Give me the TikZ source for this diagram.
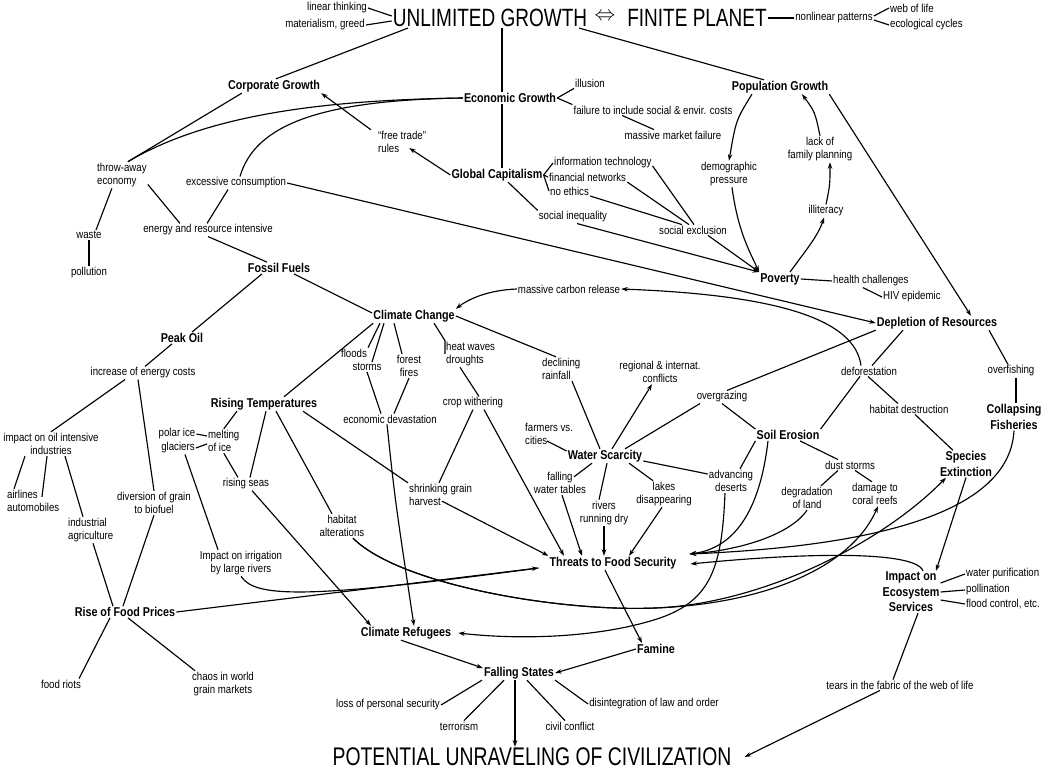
\documentclass[tikz,border=0pt]{standalone}
\usepackage{fontspec}
\newfontfamily\nar[FakeStretch=0.84]{Liberation Sans}
\newfontfamily\tit[FakeStretch=0.76]{Liberation Sans}
\usetikzlibrary{arrows.meta}
\tikzset{
 lbl/.style={inner sep=1pt, align=center, font=\nar\fontsize{11.5}{13.5}\selectfont},
 bld/.style={inner sep=1pt, align=center, font=\nar\bfseries\fontsize{12.8}{15.5}\selectfont},
 ttl/.style={inner sep=1pt, font=\tit\fontsize{25}{25}\selectfont},
 con/.style={line width=1.15pt, draw=black},
 arr/.style={con, -{Stealth[length=6.5pt,width=4.5pt]}},
}
\begin{document}
\begin{tikzpicture}[x=1pt,y=-1pt]
\fill[white] (0,0) rectangle (1045,771);
\useasboundingbox (0,0) rectangle (1045,771);
% nodes
\node[lbl] (lt) at (337,8) {linear thinking};
\node[lbl] (mg) at (325,25) {materialism, greed};
\node[ttl] (ug) at (490,18) {UNLIMITED GROWTH};
\node[inner sep=1pt] (eq) at (605,17) {\fontsize{21}{21}\selectfont$\Leftrightarrow$};
\node[ttl] (fp) at (697,18) {FINITE PLANET};
\node[lbl] (nlp) at (834,18) {nonlinear patterns};
\node[lbl, anchor=west] (wol) at (889,8) {web of life};
\node[lbl, anchor=west] (eco) at (889,25) {ecological cycles};
\node[bld] (cg) at (274,86) {Corporate Growth};
\node[bld] (eg) at (510,98) {Economic Growth};
\node[lbl] (ill) at (590,83) {illusion};
\node[lbl] (fail) at (653,110) {failure to include social \& envir. costs};
\node[lbl] (mmf) at (673,135) {massive market failure};
\node[bld] (pg) at (780,87) {Population Growth};
\node[lbl, align=left, anchor=west] (ftr) at (377,142) {“free trade”\\rules};
\node[bld] (gc) at (497,175) {Global Capitalism};
\node[lbl, anchor=west] (it) at (553,163) {information technology};
\node[lbl, anchor=west] (fn) at (548,177) {financial networks};
\node[lbl, anchor=west] (ne) at (549,191) {no ethics};
\node[lbl] (si) at (573,217) {social inequality};
\node[lbl] (se) at (693,230) {social exclusion};
\node[lbl] (dp) at (729,174) {demographic\\pressure};
\node[lbl] (lfp) at (820,149) {lack of\\family planning};
\node[lbl] (ilt) at (826,211) {illiteracy};
\node[bld] (pov) at (780,279) {Poverty};
\node[lbl, anchor=west] (hc) at (832,281) {health challenges};
\node[lbl, anchor=west] (hiv) at (882,297) {HIV epidemic};
\node[lbl, align=left, anchor=west] (tae) at (96,175) {throw-away\\economy};
\node[lbl] (ec) at (236,183) {excessive consumption};
\node[lbl] (eri) at (208,230) {energy and resource intensive};
\node[lbl] (waste) at (89,235) {waste};
\node[lbl] (poll) at (89,273) {pollution};
\node[bld] (ff) at (279,268) {Fossil Fuels};
\node[bld] (cc) at (414,316) {Climate Change};
\node[lbl] (mcr) at (569,289) {massive carbon release};
\node[bld] (dor) at (937,323) {Depletion of Resources};
\node[bld] (po) at (182,338) {Peak Oil};
\node[lbl] (iec) at (143,373) {increase of energy costs};
\node[lbl] (ioi) at (51,444) {impact on oil intensive\\industries};
\node[lbl, align=left, anchor=west] (aa) at (6,501) {airlines\\automobiles};
\node[lbl, align=left, anchor=west] (ia) at (67,530) {industrial\\agriculture};
\node[lbl] (dgb) at (154,503) {diversion of grain\\to biofuel};
\node[bld] (rfp) at (125,612) {Rise of Food Prices};
\node[lbl] (fr) at (61,684) {food riots};
\node[lbl] (chaos) at (223,684) {chaos in world\\grain markets};
\node[bld] (rt) at (264,404) {Rising Temperatures};
\node[lbl] (pice) at (177,434) {polar ice};
\node[lbl] (glac) at (178,448) {glaciers};
\node[lbl, align=left, anchor=west] (moi) at (207,441) {melting\\of ice};
\node[lbl] (rs) at (246,484) {rising seas};
\node[lbl] (iir) at (241,563) {Impact on irrigation\\by large rivers};
\node[lbl] (ha) at (342,526) {habitat\\alterations};
\node[lbl] (fl) at (354,353) {floods};
\node[lbl] (st) at (367,367) {storms};
\node[lbl] (ffi) at (409,366) {forest\\fires};
\node[lbl] (ed) at (390,419) {economic devastation};
\node[lbl, align=left, anchor=west] (hw) at (445,354) {heat waves\\droughts};
\node[lbl] (cw) at (473,403) {crop withering};
\node[lbl, align=left, anchor=west] (sgh) at (408,495) {shrinking grain\\harvest};
\node[lbl, align=left, anchor=west] (dr) at (541,369) {declining\\rainfall};
\node[lbl] (ric) at (660,372) {regional \& internat.\\conflicts};
\node[lbl] (og) at (722,397) {overgrazing};
\node[bld] (ws) at (605,456) {Water Scarcity};
\node[lbl, align=left, anchor=west] (fvc) at (524,434) {farmers vs.\\cities};
\node[lbl] (fwt) at (560,483) {falling\\water tables};
\node[lbl] (rrd) at (604,513) {rivers\\running dry};
\node[lbl] (ld) at (664,494) {lakes\\disappearing};
\node[lbl] (ad) at (731,481) {advancing\\deserts};
\node[bld] (soil) at (788,435) {Soil Erosion};
\node[lbl] (def) at (869,371) {deforestation};
\node[lbl] (hd) at (909,409) {habitat destruction};
\node[lbl] (ovf) at (1011,371) {overfishing};
\node[bld] (cf) at (1014,417) {Collapsing\\Fisheries};
\node[bld] (spe) at (966,464) {Species\\Extinction};
\node[lbl] (ds) at (850,465) {dust storms};
\node[lbl] (dol) at (807,498) {degradation\\of land};
\node[lbl] (dcr) at (875,494) {damage to\\coral reefs};
\node[bld] (tfs) at (613,563) {Threats to Food Security};
\node[bld] (fam) at (656,649) {Famine};
\node[bld] (cr) at (406,633) {Climate Refugees};
\node[bld] (fs) at (519,673) {Falling States};
\node[lbl] (lps) at (388,705) {loss of personal security};
\node[lbl] (ter) at (459,726) {terrorism};
\node[lbl] (cic) at (570,726) {civil conflict};
\node[lbl] (dlo) at (654,704) {disintegration of law and order};
\node[ttl, font=\tit\fontsize{25.5}{25.5}\selectfont] (pu) at (532,757) {POTENTIAL UNRAVELING OF CIVILIZATION};
\node[bld] (ies) at (911,592) {Impact on\\Ecosystem\\Services};
\node[lbl, anchor=west] (wp) at (965,574) {water purification};
\node[lbl, anchor=west] (pol) at (965,590) {pollination};
\node[lbl, anchor=west] (fce) at (965,604) {flood control, etc.};
\node[lbl] (tear) at (900,685) {tears in the fabric of the web of life};
% connectors
\draw[con] (lt.east) -- ([yshift=2pt]ug.west);
\draw[con] (mg.east) -- ([yshift=-3pt]ug.west);
\draw[con] (fp.east) -- (nlp.west);
\draw[con] ([yshift=2pt]nlp.east) -- (wol.west);
\draw[con] ([yshift=-2pt]nlp.east) -- (eco.west);
\draw[con] ([xshift=-82pt]ug.south) -- ([xshift=2pt]cg.north);
\draw[con] ([xshift=12pt]ug.south) -- ([xshift=-8pt]eg.north);
\draw[con] ([xshift=-8pt]eg.south) -- ([xshift=5pt]gc.north);
\draw[con] ([xshift=89pt]ug.south) -- ([xshift=-16pt]pg.north);
\draw[con] (eg.east) -- (ill.south west);
\draw[con] (eg.east) -- (fail.north west);
\draw[con] ([xshift=-31pt]fail.south) -- ([xshift=-19pt]mmf.north);
\draw[arr] (gc.west) -- ([xshift=-18pt,yshift=-6pt]ftr.east);
\draw[arr] ([xshift=-6pt]ftr.north west) -- (cg.south east);
\draw[con] (eg.west) .. controls (330,100) and (210,113) .. ([xshift=6pt]tae.north);
\draw[con] (eg.west) .. controls (320,100) and (255,125) .. ([xshift=4pt]ec.north);
\draw[con] ([xshift=15pt]cg.south west) -- ([xshift=6pt]tae.north);
\draw[con] (tae.-20) -- ([xshift=-28pt]eri.north);
\draw[con] ([xshift=-8pt]ec.south) -- ([xshift=-1pt]eri.north);
\draw[con] ([xshift=-10pt]tae.south) -- ([xshift=7pt]waste.north);
\draw[con] (waste.south) -- (poll.north);
\draw[con] (eri.south) -- ([xshift=-12pt]ff.north);
\draw[con] ([xshift=-17pt]ff.south) -- ([xshift=10pt]po.north);
\draw[con] ([xshift=15pt]ff.south) -- ([yshift=3pt]cc.west);
\draw[con] ([xshift=-10pt]po.south) -- ([xshift=2pt]iec.north);
\draw[con] ([xshift=-18pt]iec.south) -- (ioi.north);
\draw[con] ([xshift=-5pt]iec.south) -- (dgb.north);
\draw[con] ([xshift=-26pt]ioi.south) -- ([xshift=8pt]aa.north west);
\draw[con] ([xshift=-4pt]ioi.south) -- ([xshift=36pt,yshift=-8pt]aa.north west);
\draw[con] ([xshift=14pt]ioi.south) -- ([xshift=16pt]ia.north west);
\draw[con] ([xshift=26pt]ia.south west) -- ([xshift=-12pt]rfp.north);
\draw[con] (dgb.south) -- ([xshift=-2pt]rfp.north);
\draw[con] ([xshift=-15pt]rfp.south) -- ([xshift=18pt]fr.north);
\draw[con] ([xshift=3pt]rfp.south) -- ([xshift=-28pt]chaos.north);
\draw[arr] (rfp.east) -- ([xshift=-10pt,yshift=-5pt]tfs.west);
\draw[con] (iir.south) .. controls (255,597) and (300,600) .. ([xshift=-10pt,yshift=-5pt]tfs.west);
\draw[con] (cc.190) -- ([xshift=20pt]rt.north);
\draw[con] ([xshift=-27pt]rt.south) -- (moi.north);
\draw[con] (pice.east) -- ([yshift=5pt]moi.west);
\draw[con] (glac.east) -- ([yshift=-3pt]moi.west);
\draw[con] (moi.south) -- ([xshift=-8pt]rs.north);
\draw[con] ([xshift=2pt]rt.south) -- ([xshift=4pt]rs.north);
\draw[arr] ([xshift=6pt]rs.south) -- ([xshift=-35pt]cr.north);
\draw[con] ([xshift=7pt]glac.south) -- ([xshift=-23pt]iir.north);
\draw[con] ([xshift=12pt]rt.south) -- ([xshift=-10pt]ha.north);
\draw[con] ([xshift=39pt]rt.south) -- (sgh.north west);
\draw[con] ([xshift=-34pt]cc.south) -- (fl.north east);
\draw[con] ([xshift=-30pt]cc.south) -- ([xshift=5pt]st.north);
\draw[con] ([xshift=-20pt]cc.south) -- ([xshift=-7pt]ffi.north);
\draw[con] (st.south) -- ([xshift=-9pt]ed.north);
\draw[con] (ffi.south) -- ([xshift=4pt]ed.north);
\draw[arr] ([xshift=-3pt]ed.south) .. controls (395,500) .. ([xshift=8pt]cr.north);
\draw[con] ([xshift=20pt]cc.south) -- (hw.north west) -- (hw.west);
\draw[con] ([xshift=15pt]hw.south west) -- ([xshift=6pt]cw.north);
\draw[con] (cw.south) -- ([xshift=31pt]sgh.north west);
\draw[arr] ([xshift=11pt]cw.south) -- ([xshift=-49pt]tfs.north);
\draw[arr] ([xshift=34pt,yshift=6pt]sgh.south west) -- (tfs.north west);
\draw[con] (cc.east) -- ([xshift=15pt]dr.north west);
\draw[con] ([xshift=31pt]dr.south west) -- ([xshift=-5pt]ws.north);
\draw[arr] ([xshift=7pt]ws.north) -- ([xshift=-8pt]ric.south);
\draw[con] ([xshift=20pt]ws.north) -- ([xshift=-22pt]og.south);
\draw[con] ([xshift=5pt]og.north) -- (dor.south west);
\draw[con] (og.south) -- (soil.north west);
\draw[con] ([xshift=23pt,yshift=-7pt]fvc.west) -- ([yshift=5pt]ws.west);
\draw[con] ([xshift=-13pt]ws.south) -- ([xshift=14pt,yshift=-6pt]fwt.north);
\draw[con] ([xshift=2pt]ws.south) -- ([xshift=-5pt]rrd.north);
\draw[con] ([xshift=24pt]ws.south) -- ([xshift=-11pt]ld.north);
\draw[con] ([yshift=-5pt]ws.east) -- ([yshift=7pt]ad.west);
\draw[con] (soil.south west) -- ([xshift=9pt]ad.north);
\draw[arr] ([xshift=2pt]fwt.south) -- ([xshift=-31pt]tfs.north);
\draw[arr] (rrd.south) -- ([xshift=-9pt]tfs.north);
\draw[arr] ([xshift=-2pt]ld.south) -- ([xshift=16pt]tfs.north);
\draw[arr] ([xshift=-8pt]tfs.south) -- ([xshift=-14pt]fam.north);
\draw[arr] (fam.west) -- (fs.east);
\draw[arr] ([xshift=-5pt]cr.south) -- ([yshift=5pt]fs.west);
\draw[con] ([xshift=-37pt]fs.south) -- (lps.east);
\draw[con] ([xshift=-15pt]fs.south) -- ([xshift=5pt]ter.north);
\draw[arr] ([xshift=-4pt]fs.south) -- ([xshift=-17pt]pu.north);
\draw[con] ([xshift=8pt]fs.south) -- ([xshift=-5pt]cic.north);
\draw[con] (fs.south east) -- (dlo.west);
\draw[arr] ([xshift=-20pt]tear.south) -- ([xshift=12pt]pu.east);
\draw[con] ([xshift=7pt]ies.south) -- ([xshift=-7pt]tear.north);
\draw[con] ([yshift=9pt]ies.east) -- (wp.west);
\draw[con] (ies.east) -- (pol.west);
\draw[con] ([yshift=-8pt]ies.east) -- (fce.west);
\draw[arr] (spe.south) -- ([xshift=25pt]ies.north);
\draw[con] ([xshift=6pt]hd.south) -- ([xshift=-13pt]spe.north);
\draw[con] ([xshift=-1pt]def.south) -- ([xshift=-11pt]hd.north);
\draw[con] (soil.north east) -- ([xshift=-9pt]def.south);
\draw[con] ([xshift=-34pt]dor.south) -- ([xshift=3pt]def.north);
\draw[con] ([xshift=52pt]dor.south) -- ([xshift=-3pt]ovf.north);
\draw[con] ([xshift=5pt]ovf.south) -- ([xshift=2pt]cf.north);
\draw[con] ([xshift=12pt]soil.south) -- ([xshift=-12pt]ds.north);
\draw[con] ([xshift=-12pt]ds.south) -- ([xshift=14pt]dol.north);
\draw[con] ([xshift=5pt]ds.south) -- ([xshift=-3pt]dcr.north);
\draw[arr] (pg.south east) -- ([xshift=34pt]dor.north);
\draw[arr] ([xshift=-28pt]pg.south) .. controls (736,120) .. (dp.north);
\draw[arr] ([xshift=3pt]dp.south) .. controls (738,232) and (750,252) .. (pov.north west);
\draw[arr] ([xshift=10pt]pov.north) .. controls (806,250) and (818,236) .. ([xshift=-2pt]ilt.south);
\draw[arr] (ilt.north) .. controls (830,185) .. ([xshift=10pt]lfp.south);
\draw[arr] (lfp.north) .. controls (815,112) .. ([xshift=22pt]pg.south);
\draw[con] (pov.east) -- (hc.west);
\draw[con] ([xshift=-8pt]hc.south) -- (hiv.west);
\draw[con] (gc.east) -- (it.west);
\draw[con] (gc.east) -- (fn.west);
\draw[con] (gc.east) -- (ne.west);
\draw[con] ([xshift=11pt]gc.south) -- (si.north west);
\draw[arr] ([xshift=4pt]si.south) -- (pov.north west);
\draw[con] ([yshift=-3pt]it.east) -- ([xshift=1pt]se.north);
\draw[con] ([yshift=-5pt]fn.east) -- ([xshift=-4pt]se.north);
\draw[con] ([yshift=-5pt]ne.east) -- ([xshift=-11pt]se.north);
\draw[arr] ([xshift=15pt]se.south) -- (pov.north west);
\draw[arr] (mcr.west) .. controls (490,290) and (470,298) .. (cc.north east);
\draw[arr] ([xshift=-8pt]def.north) .. controls (855,320) and (780,295) .. (mcr.east);
\draw[arr] (ec.east) -- (dor.west);
\draw[arr] ([xshift=-6pt]ad.south) .. controls (722,565) and (712,600) .. (660,618) .. controls (600,638) and (520,640) .. ([xshift=6pt]cr.east);
\draw[arr] ([xshift=-20pt]soil.south) .. controls (760,510) and (735,548) .. ([xshift=12pt,yshift=9pt]tfs.east);
\draw[arr] (dol.south) .. controls (790,535) and (740,550) .. ([xshift=12pt,yshift=9pt]tfs.east);
\draw[arr] (cf.south) .. controls (1010,505) and (900,545) .. ([xshift=12pt,yshift=9pt]tfs.east);
\draw[arr] ([xshift=12pt]ies.north) .. controls (915,550) and (800,553) .. ([xshift=13pt,yshift=-1pt]tfs.east);
\draw[arr] ([xshift=11pt]ha.south) .. controls (400,585) and (560,612) .. (655,608) .. controls (760,604) and (880,545) .. ([xshift=-20pt]spe.south);
\draw[arr] ([xshift=11pt]ha.south) .. controls (400,585) and (560,612) .. (655,608) .. controls (760,604) and (850,570) .. ([xshift=3pt]dcr.south);
\end{tikzpicture}
\end{document}
